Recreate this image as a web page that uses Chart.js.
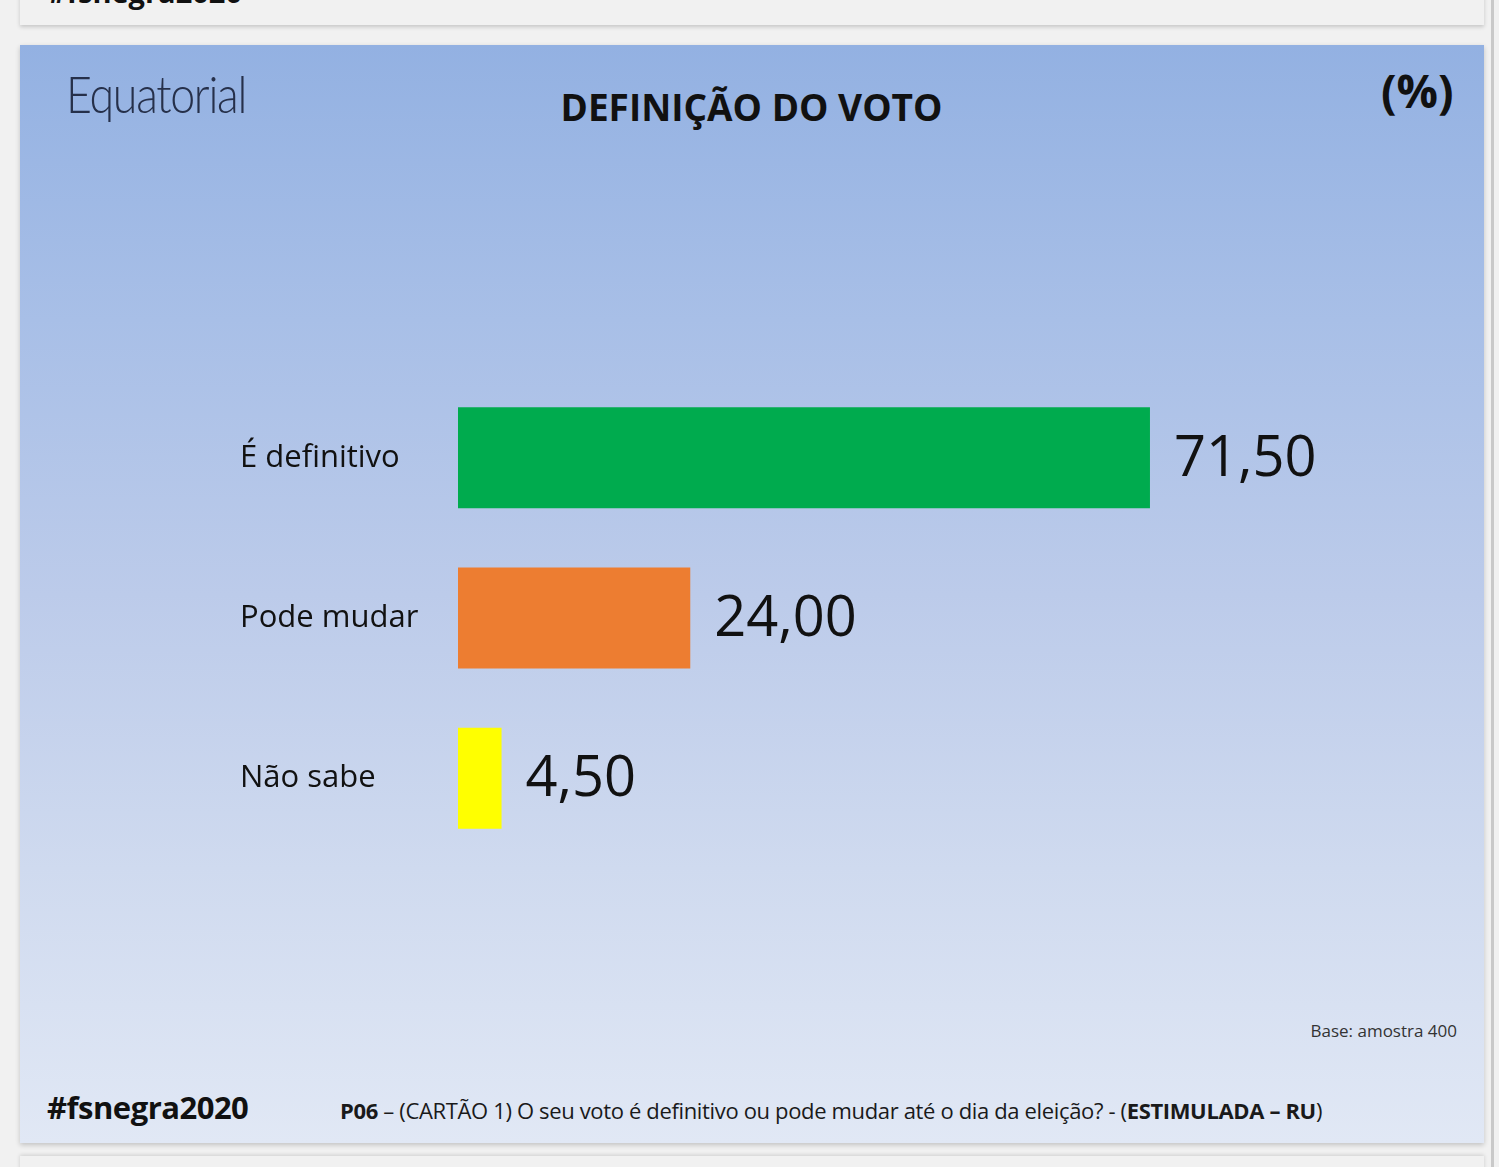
<!DOCTYPE html>
<html>
<head>
<meta charset="utf-8">
<script src="https://cdn.jsdelivr.net/npm/chart.js@4/dist/chart.umd.min.js"></script>
<style>
  html, body { margin:0; padding:0; }
  body { width:1499px; height:1167px; background:#f1f1f1; position:relative; overflow:hidden; font-family:"Open Sans", sans-serif; }
  .topcard { position:absolute; left:20px; top:-40px; width:1464px; height:65px; background:#f1f1f1; box-shadow:0 2px 4px rgba(0,0,0,0.18); overflow:hidden; }
  .topcard span { position:absolute; left:28px; bottom:14px; font-weight:700; font-size:29px; color:#111; }
  .slide { position:absolute; left:20px; top:45px; width:1464px; height:1098px;
    background:linear-gradient(to bottom, #93b1e2 0%, #a8bfe7 25%, #bccbea 50%, #cfdaef 75%, #e1e8f5 100%);
    box-shadow:0 2px 5px rgba(0,0,0,0.2); }
  .bottomcard { position:absolute; left:20px; top:1156px; width:1464px; height:40px; background:#f1f1f1; box-shadow:0 -1px 4px rgba(0,0,0,0.15); }
  .vline { position:absolute; left:1491px; top:0; width:3px; height:1167px; background:#c9c9c9; }
  .t { position:absolute; white-space:nowrap; color:#111; }
  #wrap { position:absolute; left:240px; top:356px; width:1244px; height:524px; }
</style>
</head>
<body>
<div class="topcard"><span>#fsnegra2020</span></div>
<div class="slide"></div>
<div class="bottomcard"></div>
<div class="vline"></div>

<div class="t" style="left:66px; top:62px; font-family:'Lato',sans-serif; font-weight:300; font-size:52px; color:#26304a; letter-spacing:-1.5px; transform:scaleX(0.86); transform-origin:left top;">Equatorial</div>
<div class="t" style="left:0; width:1499px; text-align:center; top:81px; font-weight:700; font-size:37px; padding-left:2px;">DEFINIÇÃO DO VOTO</div>
<div class="t" style="left:1381px; top:59px; font-weight:700; font-size:46px;">(%)</div>
<div class="t" style="right:42px; top:1019px; font-size:17px; color:#333;">Base: amostra 400</div>
<div class="t" style="left:47px; top:1086px; font-weight:700; font-size:31px; letter-spacing:-0.5px;">#fsnegra2020</div>
<div class="t" style="left:340px; top:1095px; font-size:22px; color:#1a1a1a; letter-spacing:-0.35px;"><b>P06</b> – (CARTÃO 1) O seu voto é definitivo ou pode mudar até o dia da eleição? - (<b>ESTIMULADA – RU</b>)</div>

<div id="wrap"><canvas id="c"></canvas></div>

<script>
const categories = ["É definitivo", "Pode mudar", "Não sabe"];
const values = [71.5, 24.0, 4.5];
const valueLabels = ["71,50", "24,00", "4,50"];
const barColors = ["#00ab4e", "#ed7d31", "#ffff00"];

const valuePlugin = {
  id: "valuePlugin",
  afterDatasetsDraw(chart) {
    const ctx = chart.ctx;
    const meta = chart.getDatasetMeta(0);
    ctx.save();
    ctx.font = "56px 'Open Sans', sans-serif";
    ctx.fillStyle = "#111";
    ctx.textAlign = "left";
    ctx.textBaseline = "middle";
    meta.data.forEach((bar, i) => {
      ctx.fillText(valueLabels[i], bar.x + 24, bar.y + 2);
    });
    ctx.restore();
  }
};

new Chart(document.getElementById("c"), {
  type: "bar",
  data: {
    labels: categories,
    datasets: [{
      data: values,
      backgroundColor: barColors,
      borderWidth: 0,
      barPercentage: 0.63,
      categoryPercentage: 1.0
    }]
  },
  options: {
    indexAxis: "y",
    responsive: true,
    maintainAspectRatio: false,
    animation: false,
    layout: { padding: { left: 0, right: 155, top: 0, bottom: 0 } },
    plugins: { legend: { display: false }, tooltip: { enabled: false }, title: { display: false } },
    scales: {
      x: {
        min: 0, max: 90,
        display: false,
        grid: { display: false }
      },
      y: {
        grid: { display: false },
        border: { display: false },
        afterFit(scale) { scale.width = 218; },
        ticks: {
          crossAlign: "far",
          color: "#111",
          font: { family: "'Open Sans', sans-serif", size: 31 }
        }
      }
    }
  },
  plugins: [valuePlugin]
});
</script>
</body>
</html>
